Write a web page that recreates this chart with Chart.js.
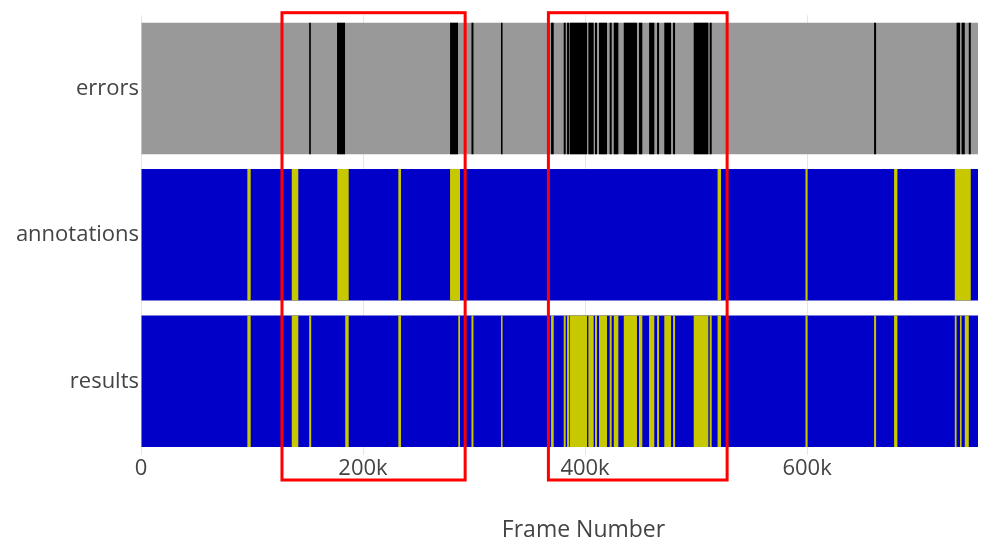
<!DOCTYPE html>
<html>
<head>
<meta charset="utf-8">
<script src="https://cdn.jsdelivr.net/npm/chart.js@4.4.1/dist/chart.umd.min.js"></script>
<style>
  html, body { margin: 0; padding: 0; background: #fff; }
  #wrap { width: 981px; height: 544px; }
</style>
</head>
<body>
<div id="wrap"><canvas id="chart"></canvas></div>
<script>
// rows of the chart, top to bottom
const rows = ['errors', 'annotations', 'results'];
const frameMax = 754000;
const tickValues = [0, 200000, 400000, 600000];
const tickLabels = ['0', '200k', '400k', '600k'];

// frame ranges in thousands
const errorSpans = [
    [151.5, 153], [176.6, 183.8], [278.4, 285.6], [297.7, 299.5], [324.3, 325.7],
    [369.4, 371.8], [380.8, 382.6], [383.8, 385.6], [386.2, 401.8], [403, 407.8],
    [409, 410.8], [412.6, 419.8], [422.2, 424], [425.9, 430], [434.9, 446.8],
    [448.6, 451.6], [457.7, 462.4], [464.9, 466.7], [471.4, 477.5], [479.3, 481.1],
    [497.9, 511.1], [512.3, 514.1], [660.4, 662.2], [734.7, 737.8], [739.2, 742.1],
    [745.7, 747.5]
];
const annotationSpans = [
    [95.8, 98.8], [135.8, 141.7], [176.8, 187.1], [231.8, 234.2], [278.4, 287.4],
    [519.4, 522.5], [598.6, 600.5], [678.4, 681.4], [733.1, 747.5]
];
const resultSpans = [
    [95.8, 98.8], [135.8, 141.7], [151.5, 153.3], [184, 187.1], [231.8, 234.2],
    [285.8, 287.4], [297.7, 299.5], [324.3, 325.7],
    [369.4, 371.8], [380.8, 382.6], [383.8, 385.6], [386.2, 401.8], [403, 407.8],
    [409, 410.8], [412.6, 419.8], [422.2, 424], [425.9, 430], [434.9, 446.8],
    [448.6, 451.6], [457.7, 462.4], [464.9, 466.7], [471.4, 477.5], [479.3, 481.1],
    [497.9, 511.1], [512.3, 514.1],
    [519.4, 522.5], [598.6, 600.5], [660.4, 662.2], [678.4, 681.4],
    [733.1, 734.7], [737.8, 739.2], [742.1, 745.7]
];
// red boxes drawn over the chart (thousands)
const highlightSpans = [[127, 292], [367, 528]];

const baseColors = ['#999999', '#0000c8', '#0000c8'];

function spansFor(row, spans) {
    return spans.map(s => ({ y: row, x: [s[0] * 1000, s[1] * 1000] }));
}

Chart.defaults.font.family = '"Open Sans", sans-serif';
Chart.defaults.color = '#444';

const highlightPlugin = {
    id: 'highlights',
    afterDraw(chart) {
        const { ctx, chartArea, scales } = chart;
        const x = scales.x;
        ctx.save();
        ctx.strokeStyle = '#ff0000';
        ctx.lineWidth = 3;
        highlightSpans.forEach(([a, b]) => {
            const x0 = x.getPixelForValue(a * 1000);
            const x1 = x.getPixelForValue(b * 1000);
            ctx.strokeRect(x0, chartArea.top - 2.5, x1 - x0, chartArea.bottom - chartArea.top + 28);
        });
        // axis title
        ctx.fillStyle = '#444';
        ctx.font = '23px "Open Sans"';
        ctx.textAlign = 'center';
        ctx.textBaseline = 'middle';
        ctx.fillText('Frame Number', (chartArea.left + chartArea.right) / 2 + 24, 530);
        ctx.restore();
    }
};

const ctx = document.getElementById('chart').getContext('2d');
new Chart(ctx, {
    type: 'bar',
    data: {
        labels: rows,
        datasets: [
            {
                label: 'base',
                data: rows.map(r => ({ y: r, x: [0, frameMax] })),
                backgroundColor: baseColors,
                order: 2
            },
            { label: 'errors', data: spansFor('errors', errorSpans), backgroundColor: '#000000', order: 1 },
            { label: 'annotations', data: spansFor('annotations', annotationSpans), backgroundColor: '#c8c800', order: 1 },
            { label: 'results', data: spansFor('results', resultSpans), backgroundColor: '#c8c800', order: 1 }
        ]
    },
    options: {
        indexAxis: 'y',
        responsive: true,
        maintainAspectRatio: false,
        animation: false,
        grouped: false,
        barPercentage: 0.898,
        categoryPercentage: 1,
        layout: { padding: { top: 13.5, right: 3, left: 0, bottom: 0 } },
        plugins: {
            legend: { display: false },
            tooltip: { enabled: false }
        },
        scales: {
            x: {
                type: 'linear',
                min: 0,
                max: frameMax,
                border: { display: false },
                grid: { color: '#e6e6e6', drawTicks: false },
                afterBuildTicks(scale) {
                    scale.ticks = tickValues.map(v => ({ value: v }));
                },
                ticks: {
                    autoSkip: false,
                    padding: 1,
                    maxRotation: 0,
                    font: { size: 22 },
                    callback: (v, i) => tickLabels[i]
                },
                afterFit(scale) { scale.height = 89.5; }
            },
            y: {
                type: 'category',
                labels: rows,
                border: { display: false },
                grid: { display: false, drawTicks: false },
                ticks: { padding: 2, font: { size: 22 } },
                afterFit(scale) { scale.width = 141; }
            }
        }
    },
    plugins: [highlightPlugin]
});
</script>
</body>
</html>
